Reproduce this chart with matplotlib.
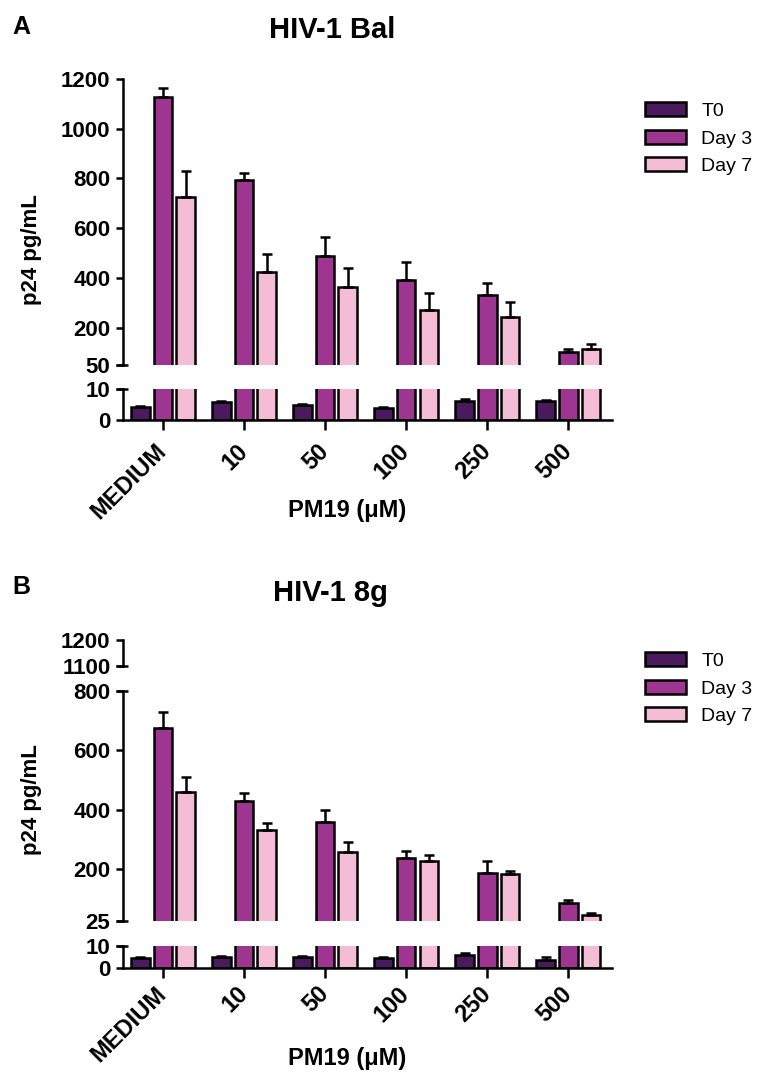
import numpy as np
import matplotlib
matplotlib.use("Agg")
from matplotlib import pyplot as plt
from matplotlib.patches import Patch

plt.rcParams['font.family'] = ['Liberation Sans', 'DejaVu Sans']
plt.rcParams['font.weight'] = 'bold'

# dados
cats = ['MEDIUM', '10', '50', '100', '250', '500']
series = ['T0', 'Day 3', 'Day 7']
cores = ['#4B1A5E', '#9E3591', '#F5BCD6']

# painel A - HIV-1 Bal
t0_a = [4.2, 5.8, 4.8, 3.9, 6.0, 6.0]
t0_a_err = [0.4, 0.4, 0.4, 0.3, 0.8, 0.6]
d3_a = [1128, 794, 490, 390, 330, 104]
d3_a_err = [35, 27, 75, 75, 48, 10]
d7_a = [725, 425, 365, 270, 243, 113]
d7_a_err = [105, 70, 75, 68, 62, 22]

# painel B - HIV-1 8g
t0_b = [4.5, 5.0, 5.0, 4.5, 5.9, 3.6]
t0_b_err = [0.4, 0.4, 0.4, 0.3, 0.9, 1.2]
d3_b = [677, 430, 360, 237, 187, 86]
d3_b_err = [52, 25, 40, 23, 40, 10]
d7_b = [460, 330, 257, 227, 183, 45]
d7_b_err = [50, 25, 35, 20, 10, 7]

W, H = 766, 1072
fig = plt.figure(figsize=(W / 100, H / 100), dpi=100)

LW = 1.8
XL = (-0.494, 5.54)


def eixo(x0, y0, x1, y1):
    # retangulo em pixels (y de cima para baixo)
    return fig.add_axes([x0 / W, 1 - y1 / H, (x1 - x0) / W, (y1 - y0) / H])


def ftext(x, y, s, **kw):
    fig.text(x / W, 1 - y / H, s, **kw)


def barras(ax, dados, erros):
    x = np.arange(len(cats))
    offs = [-0.28, 0, 0.28]
    for k in range(3):
        ax.bar(x + offs[k], dados[k], width=0.23, color=cores[k],
               edgecolor='black', linewidth=LW)
        ax.errorbar(x + offs[k], dados[k], yerr=[np.zeros(len(cats)), erros[k]],
                    fmt='none', ecolor='black', elinewidth=LW, capsize=3.5,
                    capthick=LW)
    ax.set_xlim(*XL)
    for s in ['top', 'right', 'bottom']:
        ax.spines[s].set_visible(False)
    ax.spines['left'].set_linewidth(LW)
    ax.tick_params(axis='y', length=5, width=LW, labelsize=16, pad=4)
    ax.set_xticks([])


def quebra(ax, yval):
    # marca de quebra do eixo (traco que passa do eixo)
    ax.plot([-0.015, 0.011], [yval, yval], transform=ax.get_yaxis_transform(),
            color='black', lw=LW, clip_on=False, solid_capstyle='butt')


def eixo_x(ax, pad):
    ax.spines['bottom'].set_visible(True)
    ax.spines['bottom'].set_linewidth(LW)
    ax.set_xticks(np.arange(len(cats)))
    ax.set_xticklabels(cats, rotation=45, ha='right', va='center',
                       rotation_mode='anchor', fontsize=17)
    ax.tick_params(axis='x', length=7, width=LW, pad=pad)


def painel(segs, dados, erros, xlab_y, pad):
    axs = []
    for (y0, y1, lo, hi, ticks) in segs:
        ax = eixo(123, y0, 612, y1)
        barras(ax, dados, erros)
        ax.set_ylim(lo, hi)
        ax.set_yticks(ticks)
        axs.append(ax)
    # quebras
    for i, ax in enumerate(axs):
        lo, hi = ax.get_ylim()
        if i > 0:
            quebra(ax, hi)
        if i < len(axs) - 1:
            quebra(ax, lo)
    eixo_x(axs[-1], pad)
    ftext(347, xlab_y, 'PM19 (μM)', fontsize=17, ha='center', va='center')
    return axs


# Painel A
segs_a = [(79, 365, 50, 1200, [50, 200, 400, 600, 800, 1000, 1200]),
          (389, 420, 0, 10, [0, 10])]
painel(segs_a, [t0_a, d3_a, d7_a], [t0_a_err, d3_a_err, d7_a_err], 511, 13)
ftext(21, 27, 'A', fontsize=18, ha='center', va='center')
ftext(332, 30, 'HIV-1 Bal', fontsize=21, ha='center', va='center')
ftext(31, 250, 'p24 pg/mL', fontsize=16, rotation=90, ha='center', va='center')

# Painel B
segs_b = [(640, 666, 1100, 1200, [1100, 1200]),
          (691, 921, 25, 800, [25, 200, 400, 600, 800]),
          (946, 968, 0, 10, [0, 10])]
painel(segs_b, [t0_b, d3_b, d7_b], [t0_b_err, d3_b_err, d7_b_err], 1058, 9)
ftext(21, 587, 'B', fontsize=18, ha='center', va='center')
ftext(330, 593, 'HIV-1 8g', fontsize=21, ha='center', va='center')
ftext(31, 800, 'p24 pg/mL', fontsize=16, rotation=90, ha='center', va='center')

# legendas
handles = [Patch(facecolor=c, edgecolor='black', linewidth=LW) for c in cores]
for ytop in [102, 652]:
    fig.legend(handles, series, loc='upper left',
               bbox_to_anchor=(645 / W, 1 - ytop / H), frameon=False,
               borderpad=0, borderaxespad=0, handlelength=2.1,
               handleheight=0.75, labelspacing=0.5, handletextpad=0.8,
               prop={'size': 14, 'weight': 'normal'})

plt.savefig('out.png', dpi=100)
